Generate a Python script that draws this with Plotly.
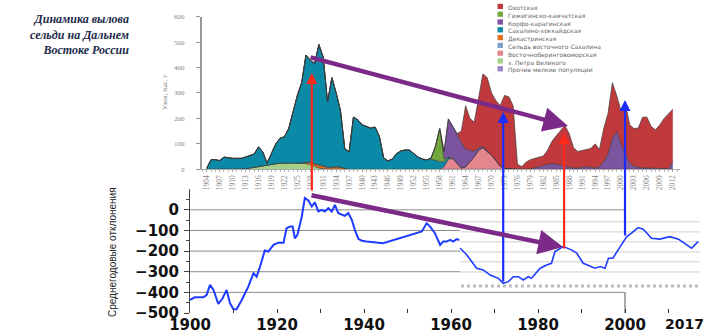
import plotly.graph_objects as go

W, H = 709, 333


def fx(px):
    return px / W


def fy(py):
    return 1 - py / H


# --- top chart: herring catch, thousand t (stacked areas) ---
teal_years = list(range(1904, 1962))
teal_catch = [4, 38, 38, 34, 48, 45, 43, 43, 43, 46,
              48, 52, 76, 53, 6, 45, 78, 98, 103, 135,
              205, 266, 314, 422, 400, 394, 473, 428, 257, 352,
              290, 222, 77, 69, 205, 195, 175, 168, 162, 166,
              130, 45, 33, 40, 62, 72, 76, 75, 62, 48,
              40, 37, 40, 35, 30, 20, 8, 0]

petra_years = list(range(1912, 1933))
petra_catch = [0, 2, 5, 8, 12, 15, 18, 20, 22, 24,
               25, 25, 25, 24, 24, 22, 18, 10, 5, 2, 0]

dekastri_years = list(range(1925, 1938))
dekastri_catch = [0, 2, 5, 10, 12, 12, 10, 8, 8, 10, 8, 3, 0]

gizhiga_years = list(range(1955, 1961))
gizhiga_catch = [0, 5, 55, 130, 10, 0]

bering_years = list(range(1958, 1977))
bering_catch = [0, 10, 40, 42, 25, 5, 10, 30, 50, 75,
                85, 70, 55, 35, 12, 5, 3, 2, 0]

korfo_years = list(range(1958, 2013))
korfo_catch = [0, 30, 150, 128, 115, 100, 70, 45, 20, 10,
               5, 3, 2, 2, 0, 0, 0, 0, 0, 0,
               0, 2, 5, 10, 15, 20, 22, 20, 15, 10,
               8, 5, 5, 8, 10, 8, 5, 10, 30, 60,
               120, 150, 100, 60, 25, 12, 8, 5, 5, 5,
               5, 5, 3, 3, 30]

okhotsk_years = list(range(1962, 2013))
okhotsk_catch = [0, 45, 170, 125, 115, 195, 285, 287, 243, 233,
                 238, 285, 282, 248, 20, 10, 28, 36, 38, 37,
                 37, 55, 88, 112, 135, 162, 132, 80, 65, 65,
                 68, 74, 95, 68, 130, 160, 220, 140, 130, 200,
                 150, 148, 154, 200, 200, 163, 150, 170, 197, 217,
                 206]

legend_names = ["Охотская", "Гижигинско-камчатская", "Корфо-карагинская",
                "Сахалино-хоккайдская", "Декастринская",
                "Сельдь восточного Сахалина", "Восточноберинговоморская",
                "з. Петра Великого", "Прочие мелкие популяции"]
legend_colors = ["#c03a3d", "#72a83c", "#7b539e", "#0a8aa6", "#e0701e",
                 "#7e9fcc", "#e3868e", "#a6cf8a", "#9a86c6"]
COLOR = dict(zip(legend_names, legend_colors))

# --- bottom chart: mean annual deviations ---
dev_years_a = [1900, 1901.1, 1903.1, 1903.8, 1904.6, 1905.4, 1906.5, 1907.5,
               1908.4, 1909.2, 1910, 1910.7, 1911.9, 1913.4, 1914.6, 1915.3,
               1916.1, 1917.2, 1918, 1919.2, 1920.3, 1921.5, 1922.2, 1923,
               1923.6, 1924.1, 1924.7, 1925.7, 1926.4, 1927.2, 1928, 1928.7,
               1929.5, 1930.3, 1931, 1931.8, 1932.6, 1933.3, 1934.1, 1934.9,
               1935.6, 1936.4, 1937.2, 1937.9, 1938.7, 1939.5, 1940.6, 1944.4,
               1948.3, 1952.1, 1953.3, 1954.4, 1955.2, 1956.3, 1957.5, 1958.2,
               1959, 1959.8, 1960.5, 1961.3, 1961.9]
dev_a = [-437, -424, -424, -413, -364, -388, -456, -429,
         -388, -453, -482, -482, -437, -372, -307, -324,
         -275, -197, -202, -170, -159, -159, -89, -81,
         -81, -138, -121, -32, 57, 45, 16, 36,
         -8, 0, -8, 8, -8, 24, -16, -24,
         -29, -16, -49, -97, -140, -150, -154, -162,
         -138, -113, -105, -65, -81, -113, -170, -154,
         -154, -146, -154, -142, -146]

dev_years_b = [1962.1, 1963.6, 1965.9, 1967.4, 1969, 1970.9, 1972, 1973.2,
               1974.3, 1975.5, 1976.6, 1977.8, 1978.5, 1980.5, 1982, 1983.1,
               1983.9, 1985.8, 1987.7, 1988.9, 1990.4, 1993.1, 1994.3, 1995.4,
               1996.2, 1997.2, 1998.9, 2000.4, 2001.5, 2003, 2004.2, 2006.1,
               2008, 2010.3, 2012.3, 2013.8, 2015.3, 2016.8]
dev_b = [-186, -218, -283, -291, -316, -332, -356, -348,
         -324, -324, -340, -324, -332, -283, -267, -259,
         -202, -178, -194, -210, -259, -283, -275, -283,
         -235, -235, -178, -130, -113, -86, -94, -138,
         -142, -130, -142, -162, -186, -154]

dev_ticks = [-500, -400, -300, -200, -100, 0]
year_ticks = [1900, 1920, 1940, 1960, 1980, 2000]
event_years = [1928, 1972, 1986, 2000]

fig = go.Figure()

stack = [
    ("з. Петра Великого", petra_years, petra_catch),
    ("Декастринская", dekastri_years, dekastri_catch),
    ("Восточноберинговоморская", bering_years, bering_catch),
    ("Сахалино-хоккайдская", teal_years, teal_catch),
    ("Гижигинско-камчатская", gizhiga_years, gizhiga_catch),
    ("Корфо-карагинская", korfo_years, korfo_catch),
    ("Охотская", okhotsk_years, okhotsk_catch),
]
for name, xs, ys in stack:
    fig.add_trace(go.Scatter(
        x=xs, y=ys, name=name, stackgroup="catch", mode="lines",
        line={"color": "#3a3a3a", "width": 0.7}, fillcolor=COLOR[name],
        xaxis="x", yaxis="y", hoverinfo="skip",
    ))

fig.add_trace(go.Scatter(x=dev_years_a, y=dev_a, mode="lines",
                         line={"color": "#1d3cff", "width": 2},
                         xaxis="x2", yaxis="y2"))
fig.add_trace(go.Scatter(x=dev_years_b, y=dev_b, mode="lines",
                         line={"color": "#1d3cff", "width": 1.6},
                         xaxis="x2", yaxis="y2"))

shapes = []
# bottom chart gridlines (end at 2000)
for v in dev_ticks[1:]:
    shapes.append(dict(type="line", xref="x2", yref="y2", x0=1900, x1=2000,
                       y0=v, y1=v, line={"color": "#8a8a8a", "width": 1},
                       layer="below"))
shapes.append(dict(type="line", xref="x2", yref="y2", x0=2000, x1=2000,
                   y0=-400, y1=-500, line={"color": "#555", "width": 1},
                   layer="below"))
# pasted overlay panel on the right
shapes.append(dict(type="rect", xref="x2", yref="y2", x0=1962.05, x1=2017.3,
                   y0=-38, y1=-392, fillcolor="white", line={"width": 0},
                   layer="between"))
for v in [-58, -107, -155, -204, -252, -301]:
    shapes.append(dict(type="line", xref="x2", yref="y2", x0=1962.05,
                       x1=2017.3, y0=v, y1=v,
                       line={"color": "#d0d0d0", "width": 1}, layer="between"))
shapes.append(dict(type="line", xref="x2", yref="y2", x0=1962.3, x1=2017.0,
                   y0=-369, y1=-369,
                   line={"color": "#bdbdbd", "width": 3, "dash": "dot"},
                   layer="between"))

annotations = []
# manual legend: one text block, colour squares beside each line
LEG_TOP, LEG_STEP, LEG_FONT = 2.5, 7.8, 6.0
for i, col in enumerate(legend_colors):
    row = LEG_TOP + LEG_STEP * (i + 0.5)
    shapes.append(dict(type="rect", xref="paper", yref="paper",
                       x0=fx(497.5), x1=fx(503), y0=fy(row + 2.6),
                       y1=fy(row - 2.6), fillcolor=col, line={"width": 0}))
annotations.append(dict(text="<br>".join(legend_names), x=fx(507),
                        y=fy(LEG_TOP), xref="paper", yref="paper",
                        xanchor="left", yanchor="top", align="left",
                        showarrow=False, borderpad=0,
                        font={"size": LEG_FONT, "color": "#666",
                              "family": "DejaVu Sans"}))

annotations += [
    dict(text="Динамика вылова<br>сельди на Дальнем<br>Востоке России",
         x=fx(131), y=fy(10), xref="paper", yref="paper", xanchor="right",
         yanchor="top", align="right", showarrow=False,
         font={"family": "Liberation Serif", "size": 12, "color": "#1b2a4a",
               "weight": "bold", "style": "italic"}),
    dict(text="Улов, тыс. т", x=fx(165), y=fy(93), xref="paper", yref="paper",
         xanchor="center", yanchor="middle", textangle=-90, showarrow=False,
         font={"family": "Liberation Serif", "size": 7, "color": "#777"}),
    dict(text="Среднегодовые отклонения", x=fx(112), y=fy(252),
         xref="paper", yref="paper", xanchor="center", yanchor="middle",
         textangle=-90, showarrow=False,
         font={"family": "Liberation Sans", "size": 10, "color": "#222"}),
    dict(text="2017", x=2013.6, y=fy(323.5), xref="x2", yref="paper",
         xanchor="center", yanchor="middle", showarrow=False, borderpad=0,
         font={"family": "DejaVu Sans", "size": 14, "color": "#111",
               "weight": "bold"}),
]

# vertical event arrows
tips = [73, 112, 133, 100]
tails = [192, 283, 250, 237]
cols = ["#ff2a1a", "#1a2cff", "#ff2a1a", "#1a2cff"]
for yr, tip, tail, col in zip(event_years, tips, tails, cols):
    annotations.append(dict(text="", x=yr, xref="x2", y=fy(tip), yref="paper",
                            ax=0, ay=tail - tip, showarrow=True, arrowhead=2,
                            arrowsize=1, arrowwidth=2.2, arrowcolor=col))
# purple trend arrows
for (t_x, t_y), (h_x, h_y) in [((309, 57), (568, 126)),
                               ((310, 195), (563, 247))]:
    annotations.append(dict(text="", x=fx(h_x), y=fy(h_y), xref="paper",
                            yref="paper", ax=t_x - h_x, ay=t_y - h_y,
                            showarrow=True, arrowhead=2, arrowsize=1.1,
                            arrowwidth=4.5, arrowcolor="#7b2a88"))

bold = {"family": "DejaVu Sans", "size": 15, "color": "#111", "weight": "bold"}

fig.update_layout(
    width=W, height=H,
    margin={"l": 0, "r": 0, "t": 0, "b": 0, "pad": 0, "autoexpand": False},
    paper_bgcolor="white", plot_bgcolor="white", showlegend=False,
    xaxis={"domain": [fx(201.7), fx(680)], "range": [1902.84, 2013.67],
           "anchor": "y", "automargin": False, "showgrid": False,
           "zeroline": False, "showline": True, "linecolor": "#aaa",
           "tickmode": "linear", "tick0": 1904, "dtick": 3,
           "tickangle": -90, "ticks": "outside", "ticklen": 2,
           "tickcolor": "#aaa",
           "tickfont": {"size": 7.5, "color": "#888",
                        "family": "Liberation Serif"},
           "minor": {"dtick": 1, "ticks": "outside", "ticklen": 2,
                     "tickcolor": "#bbb"}},
    yaxis={"domain": [fy(169.3), fy(16.6)], "range": [0, 600], "anchor": "x",
           "automargin": False, "showgrid": False, "zeroline": False,
           "showline": True, "linecolor": "#999", "linewidth": 1.5,
           "dtick": 100, "ticks": "outside", "ticklen": 4,
           "tickcolor": "#999", "ticklabelstandoff": 10,
           "tickfont": {"size": 7, "color": "#888",
                        "family": "Liberation Serif"}},
    xaxis2={"domain": [fx(190), fx(700)], "range": [1900, 2017.24],
            "anchor": "y2", "automargin": False, "showgrid": False,
            "zeroline": False, "showline": False, "tickvals": year_ticks,
            "ticks": "inside", "ticklen": 4, "tickcolor": "#333",
            "tickfont": bold, "ticklabelstandoff": 1,
            "minor": {"tickmode": "linear", "tick0": 1910, "dtick": 20,
                      "ticks": "inside", "ticklen": 4, "tickcolor": "#333"}},
    yaxis2={"domain": [fy(313), fy(189.4)], "range": [-500, 99],
            "anchor": "x2", "automargin": False, "showgrid": False,
            "zeroline": False, "showline": True, "linecolor": "#444",
            "linewidth": 1, "tickvals": dev_ticks, "ticks": "outside",
            "ticklen": 5, "tickcolor": "#444", "tickfont": bold,
            "ticklabelstandoff": 2,
            "minor": {"tickmode": "linear", "tick0": 50, "dtick": 100,
                      "ticks": "outside", "ticklen": 3, "tickcolor": "#444"}},
    shapes=shapes,
    annotations=annotations,
)

# the page body has a default 8px margin; drop it so the figure sits at 0,0
fig.write_html("out.html", config={"displayModeBar": False},
               post_script="document.body.style.margin = '0';")
